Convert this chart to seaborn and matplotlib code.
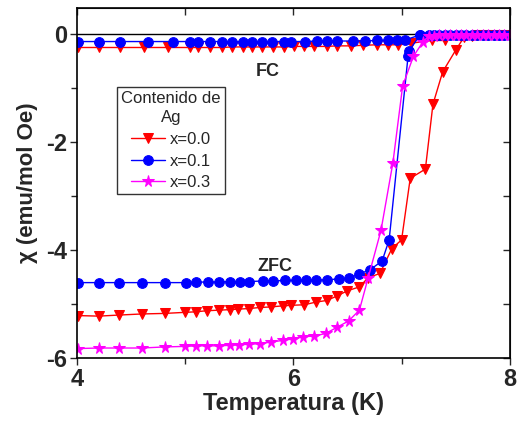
import numpy as np
import pandas as pd
import matplotlib
matplotlib.use("Agg")
import matplotlib.pyplot as plt
import seaborn as sns
from matplotlib.ticker import MultipleLocator

# ---------------- data ----------------
tail_T = [7.25, 7.30, 7.35, 7.40, 7.45, 7.50, 7.55, 7.60, 7.65, 7.70, 7.75, 7.80, 7.85, 7.90, 7.95, 8.00]

zfc00_T = [4.01, 4.20, 4.39, 4.60, 4.81, 5.00, 5.10, 5.20, 5.31, 5.41, 5.49, 5.59, 5.69, 5.79,
           5.90, 5.98, 6.10, 6.21, 6.31, 6.40, 6.50, 6.61, 6.69, 6.80, 6.91, 7.00, 7.08, 7.22,
           7.29, 7.38, 7.50, 7.58, 7.65, 7.70, 7.75, 7.80, 7.85, 7.90, 7.95, 8.00]
zfc00_y = [-5.21, -5.22, -5.20, -5.18, -5.17, -5.15, -5.14, -5.12, -5.11, -5.10, -5.09, -5.08,
           -5.06, -5.05, -5.03, -5.02, -5.01, -4.96, -4.93, -4.85, -4.75, -4.68, -4.51, -4.43,
           -3.97, -3.81, -2.67, -2.50, -1.30, -0.70, -0.30, -0.05, -0.03, -0.02, -0.02, -0.02,
           -0.02, -0.02, -0.02, -0.02]

zfc01_T = [4.01, 4.20, 4.39, 4.60, 4.81, 5.01, 5.10, 5.21, 5.31, 5.41, 5.51, 5.59, 5.72, 5.81,
           5.92, 6.02, 6.12, 6.21, 6.31, 6.42, 6.51, 6.61, 6.71, 6.82, 6.885, 7.06, 7.07, 7.17] + tail_T
zfc01_y = [-4.60, -4.60, -4.60, -4.60, -4.60, -4.60, -4.59, -4.59, -4.59, -4.58, -4.58, -4.58,
           -4.57, -4.57, -4.56, -4.56, -4.56, -4.55, -4.55, -4.53, -4.52, -4.44, -4.36, -4.20,
           -3.81, -0.41, -0.31, -0.02] + [-0.02, -0.02, -0.02, -0.01, -0.01, -0.01, -0.01, -0.01,
                                         -0.01, -0.01, -0.01, -0.01, -0.01, -0.01, -0.01, -0.01]

zfc03_T = [4.01, 4.20, 4.39, 4.60, 4.81, 5.00, 5.10, 5.20, 5.31, 5.41, 5.50, 5.59, 5.69, 5.79,
           5.90, 6.00, 6.09, 6.19, 6.30, 6.40, 6.51, 6.61, 6.69, 6.81, 6.92, 7.01, 7.11, 7.20] + tail_T
zfc03_y = [-5.82, -5.81, -5.81, -5.81, -5.79, -5.78, -5.77, -5.77, -5.77, -5.76, -5.75, -5.74,
           -5.73, -5.70, -5.67, -5.64, -5.60, -5.59, -5.54, -5.43, -5.31, -5.11, -4.52, -3.63,
           -2.38, -0.96, -0.41, -0.14] + [-0.04, -0.03, -0.02, -0.02, -0.01, -0.01, -0.01, -0.01,
                                         -0.01, -0.01, -0.01, -0.01, -0.01, -0.01, -0.01, -0.01]

fc00_T = [4.01, 4.20, 4.40, 4.62, 4.84, 5.04, 5.12, 5.23, 5.34, 5.43, 5.53, 5.62, 5.71, 5.81,
          5.91, 6.01, 6.10, 6.19, 6.31, 6.40, 6.53, 6.64, 6.77, 6.87, 6.97, 7.09, 7.28, 7.40, 7.55]
fc00_y = [-0.25, -0.25, -0.25, -0.25, -0.25, -0.25, -0.25, -0.25, -0.25, -0.24, -0.24, -0.24,
          -0.24, -0.24, -0.24, -0.23, -0.23, -0.23, -0.23, -0.22, -0.22, -0.21, -0.20, -0.20,
          -0.20, -0.17, -0.12, -0.12, -0.03]

fc01_T = [4.01, 4.20, 4.40, 4.66, 4.89, 5.04, 5.12, 5.23, 5.34, 5.43, 5.53, 5.62, 5.71, 5.80,
          5.91, 5.98, 6.11, 6.22, 6.31, 6.40, 6.55, 6.66, 6.77, 6.87, 6.96, 7.03, 7.17]
fc01_y = [-0.14, -0.14, -0.14, -0.14, -0.14, -0.14, -0.14, -0.14, -0.14, -0.14, -0.14, -0.14,
          -0.14, -0.14, -0.14, -0.14, -0.14, -0.13, -0.13, -0.13, -0.13, -0.13, -0.12, -0.12,
          -0.11, -0.11, -0.02]

legend_title = "Contenido de\nAg"
labels = ["x=0.0", "x=0.1", "x=0.3"]
colors = ["#ff0000", "#0000ff", "#ff00ff"]

# ---------------- plot ----------------
sns.set_style("ticks")
plt.rcParams['font.family'] = ['Liberation Sans', 'DejaVu Sans']
plt.rcParams['axes.unicode_minus'] = False

fig = plt.figure(figsize=(5.17, 4.23), dpi=100)
ax = fig.add_axes([0.149, 0.153, 0.837, 0.828])

ax.axhline(0, color="black", lw=1.0, zorder=1)

def draw(T, y, color, marker, ms, label=None):
    df = pd.DataFrame({"T": T, "chi": y})
    sns.lineplot(data=df, x="T", y="chi", ax=ax, color=color, marker=marker,
                 markersize=ms, markeredgecolor=color, markerfacecolor=color,
                 linewidth=1.0, sort=False, estimator=None, label=label, legend=False)

draw(fc00_T, fc00_y, colors[0], "v", 7)
draw(fc01_T, fc01_y, colors[1], "o", 7)
draw(zfc00_T, zfc00_y, colors[0], "v", 7, labels[0])
draw(zfc01_T, zfc01_y, colors[1], "o", 7, labels[1])
draw(zfc03_T, zfc03_y, colors[2], "*", 8.5, labels[2])

ax.set_xlim(4, 8)
ax.set_ylim(-6, 0.48)
ax.xaxis.set_major_locator(MultipleLocator(2))
ax.xaxis.set_minor_locator(MultipleLocator(1))
ax.yaxis.set_major_locator(MultipleLocator(2))
ax.yaxis.set_minor_locator(MultipleLocator(1))

ax.tick_params(which="both", direction="out", top=False, right=False,
               labelsize=17, width=1.0, pad=2)
ax.tick_params(which="major", length=5)
ax.tick_params(which="minor", length=4)
for lab in ax.get_xticklabels() + ax.get_yticklabels():
    lab.set_fontweight("bold")

# mirrored ticks pointing inward on top/right
axt = ax.secondary_xaxis("top")
axt.xaxis.set_major_locator(MultipleLocator(1))
axt.tick_params(direction="in", length=5, labeltop=False, width=1.0)
axr = ax.secondary_yaxis("right")
axr.yaxis.set_major_locator(MultipleLocator(1))
axr.tick_params(direction="in", length=5, labelright=False, width=1.0)

for s in ax.spines.values():
    s.set_linewidth(1.2)
    s.set_color("black")

ax.set_xlabel("Temperatura (K)", fontsize=17, fontweight="bold", labelpad=1)
ax.set_ylabel("χ (emu/mol Oe)", fontsize=16, fontweight="bold", labelpad=6)

ax.text(5.76, -0.70, "FC", fontsize=13, fontweight="bold", ha="center", va="center")
ax.text(5.83, -4.30, "ZFC", fontsize=13, fontweight="bold", ha="center", va="center")

leg = ax.legend(title=legend_title, loc="upper left", bbox_to_anchor=(0.093, 0.775),
                fontsize=12, title_fontsize=12, frameon=True, fancybox=False,
                edgecolor="black", handlelength=2.0, handletextpad=0.3,
                borderpad=0.25, labelspacing=0.4, borderaxespad=0)
leg.get_title().set_ha("center")
leg.get_title().set_multialignment("center")
leg.get_title().set_linespacing(1.35)
leg.get_frame().set_linewidth(1.0)

fig.savefig("out.png", dpi=100)
